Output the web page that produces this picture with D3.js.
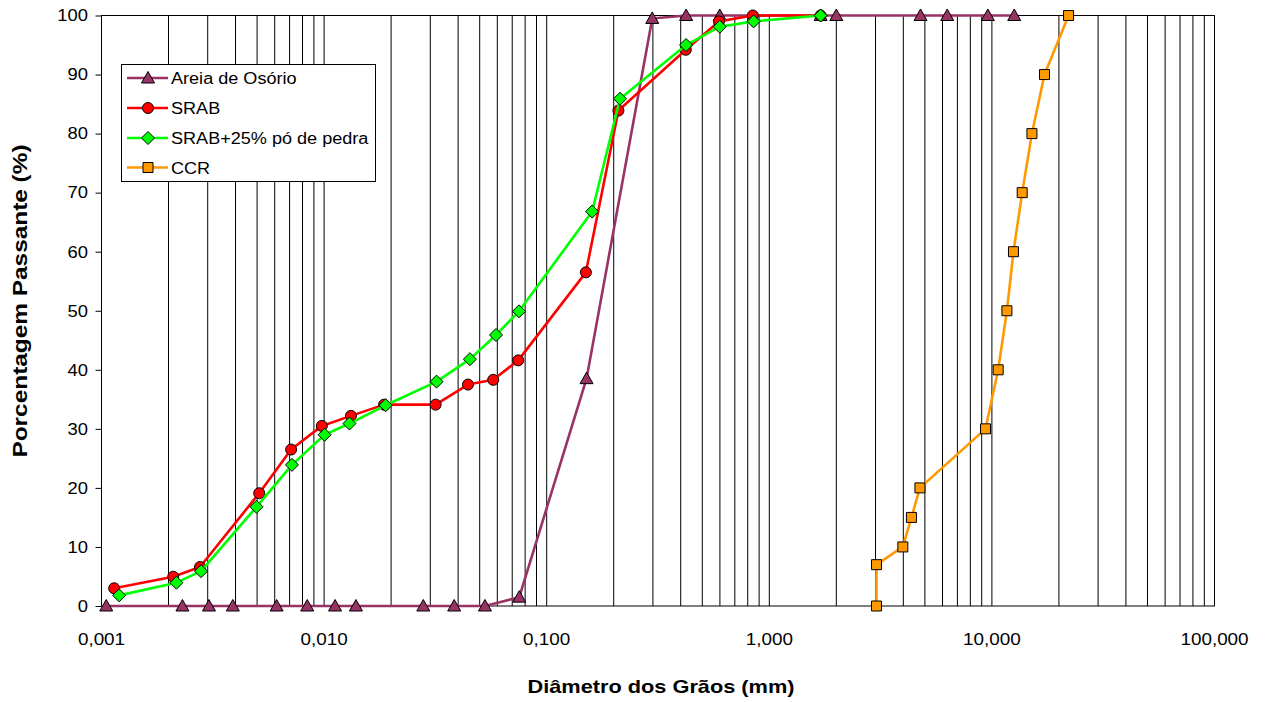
<!DOCTYPE html>
<html>
<head>
<meta charset="utf-8">
<script src="https://cdn.jsdelivr.net/npm/d3@7"></script>
<style>
  html, body { margin: 0; padding: 0; background: #fff; }
  svg { display: block; }
  text { font-family: "Liberation Sans", Arial, sans-serif; fill: #000; }
</style>
</head>
<body>
<svg id="chart" width="1271" height="702"></svg>
<script>
// ---- Data ----
const seriesNames = ["Areia de Osório", "SRAB", "SRAB+25% pó de pedra", "CCR"];

const areiaD = [0.00105, 0.00231, 0.00304, 0.00389, 0.00612, 0.0084, 0.0112, 0.0139, 0.0279, 0.0384, 0.0528, 0.0753, 0.151, 0.298, 0.423, 0.599, 1.70, 2.0, 4.78, 6.30, 9.59, 12.6];
const areiaP = [0, 0, 0, 0, 0, 0, 0, 0, 0, 0, 0, 1.5, 38.5, 99.5, 100, 100, 100, 100, 100, 100, 100, 100];

const srabD = [0.00114, 0.0021, 0.00277, 0.00511, 0.00711, 0.00977, 0.0132, 0.0186, 0.0317, 0.0443, 0.0575, 0.0745, 0.150, 0.210, 0.4215, 0.594, 0.843, 1.70];
const srabP = [3.0, 4.96, 6.6, 19.1, 26.5, 30.5, 32.2, 34.1, 34.1, 37.5, 38.3, 41.6, 56.5, 83.9, 94.2, 99.0, 100, 100];

const srab25D = [0.0012, 0.00217, 0.0028, 0.00497, 0.00717, 0.01005, 0.013, 0.0189, 0.032, 0.0452, 0.0592, 0.0751, 0.160, 0.2135, 0.4227, 0.599, 0.85, 1.70];
const srab25P = [1.8, 3.95, 5.9, 16.8, 23.9, 29.0, 30.9, 34.0, 38.0, 41.8, 45.9, 49.9, 66.8, 85.9, 95.0, 98.1, 99.0, 100];

const ccrD = [3.03, 3.03, 3.98, 4.35, 4.75, 9.36, 10.67, 11.68, 12.5, 13.68, 15.13, 17.23, 22.1];
const ccrP = [0, 7, 10, 15, 20, 30, 40, 50, 60, 70, 80, 90, 100];

const xTickValues = [0.001, 0.01, 0.1, 1, 10, 100];
const xTickLabels = ["0,001", "0,010", "0,100", "1,000", "10,000", "100,000"];
const yTickValues = [0, 10, 20, 30, 40, 50, 60, 70, 80, 90, 100];

const xTitle = "Diâmetro dos Grãos (mm)";
const yTitle = "Porcentagem Passante (%)";

// ---- Layout ----
const L = 101.5, R = 1214.5, T = 15.5, B = 606;
const svg = d3.select("#chart");

const x = d3.scaleLog().domain([0.001, 100]).range([L, R]);
const y = d3.scaleLinear().domain([0, 100]).range([B, T]);

// helper for horizontally-stretched text
function stext(parent, tx, ty, str, opts) {
  const g = parent.append("g").attr("transform", `translate(${tx},${ty})` + (opts.rotate ? ` rotate(${opts.rotate})` : ""));
  g.append("text")
    .attr("transform", `scale(${opts.sx || 1},1)`)
    .attr("text-anchor", opts.anchor || "start")
    .attr("font-size", opts.size)
    .attr("font-weight", opts.weight || "normal")
    .text(str);
  return g;
}

// ---- vertical log gridlines ----
const gridVals = [];
[0.001, 0.01, 0.1, 1, 10].forEach(d => { for (let k = 1; k <= 9; k++) gridVals.push(d * k); });
gridVals.push(100);
svg.append("g").selectAll("line").data(gridVals).join("line")
  .attr("x1", d => x(d)).attr("x2", d => x(d))
  .attr("y1", T).attr("y2", B)
  .attr("stroke", "#000").attr("stroke-width", 1);

// plot frame
svg.append("rect").attr("x", L).attr("y", T).attr("width", R - L).attr("height", B - T)
  .attr("fill", "none").attr("stroke", "#000").attr("stroke-width", 1);

// y ticks
const yAxis = d3.axisLeft(y).tickValues(yTickValues).tickSize(6).tickPadding(7).tickFormat(d3.format("d"));
const gy = svg.append("g").attr("transform", `translate(${L},0)`).call(yAxis);
gy.select(".domain").remove();
gy.selectAll(".tick line").attr("stroke", "#000");
gy.selectAll(".tick text").remove();
yTickValues.forEach(v => {
  stext(svg, 88, y(v) + 5.8, String(v), { size: 16, sx: 1.15, anchor: "end" });
});

// x tick labels (no tick marks)
const xAxis = d3.axisBottom(x).tickValues(xTickValues).tickSize(0).tickFormat((d, i) => xTickLabels[i]);
const gx = svg.append("g").attr("transform", `translate(0,${B})`).call(xAxis);
gx.select(".domain").remove();
gx.selectAll(".tick text").remove();
xTickValues.forEach((v, i) => {
  stext(svg, x(v), 645, xTickLabels[i], { size: 16, sx: 1.18, anchor: "middle" });
});

// axis titles
stext(svg, 661, 693, xTitle, { size: 19, sx: 1.145, anchor: "middle", weight: "bold" });
stext(svg, 27, 301, yTitle, { size: 20, sx: 1.22, anchor: "middle", weight: "bold", rotate: -90 });

// ---- series ----
const series = [
  { name: seriesNames[0], d: areiaD, p: areiaP, color: "#993366", fill: "#993366", marker: "triangle" },
  { name: seriesNames[1], d: srabD, p: srabP, color: "#FF0000", fill: "#FF0000", marker: "circle" },
  { name: seriesNames[2], d: srab25D, p: srab25P, color: "#00FF00", fill: "#00FF00", marker: "diamond" },
  { name: seriesNames[3], d: ccrD, p: ccrP, color: "#FF9900", fill: "#FF9900", marker: "square" }
];

const markerPath = {
  triangle: "M0,-6.5L6.5,5L-6.5,5Z",
  circle: d3.symbol(d3.symbolCircle, Math.PI * 5.5 * 5.5)(),
  diamond: "M0,-6.5L6.5,0L0,6.5L-6.5,0Z",
  square: "M-5,-5H5V5H-5Z"
};

const line = d3.line().x(d => x(d[0])).y(d => y(d[1]));

series.forEach(s => {
  const pts = s.d.map((v, i) => [v, s.p[i]]);
  const g = svg.append("g");
  g.append("path").datum(pts).attr("d", line)
    .attr("fill", "none").attr("stroke", s.color).attr("stroke-width", 2.6).attr("stroke-linejoin", "round");
  g.selectAll("path.m").data(pts).join("path").attr("class", "m")
    .attr("transform", d => `translate(${x(d[0])},${y(d[1])})`)
    .attr("d", markerPath[s.marker])
    .attr("fill", s.fill).attr("stroke", "#000").attr("stroke-width", 1);
});

// ---- legend ----
const lg = svg.append("g");
lg.append("rect").attr("x", 121.5).attr("y", 64.5).attr("width", 254).attr("height", 117)
  .attr("fill", "#fff").attr("stroke", "#000").attr("stroke-width", 1);
const rowY = [78, 108, 138, 167.5];
series.forEach((s, i) => {
  lg.append("line").attr("x1", 127).attr("x2", 168).attr("y1", rowY[i]).attr("y2", rowY[i])
    .attr("stroke", s.color).attr("stroke-width", 2.6);
  lg.append("path").attr("transform", `translate(148,${rowY[i]})`).attr("d", markerPath[s.marker])
    .attr("fill", s.fill).attr("stroke", "#000").attr("stroke-width", 1);
  stext(lg, 171, rowY[i] + 6, s.name, { size: 16, sx: 1.13, anchor: "start" });
});
</script>
</body>
</html>
